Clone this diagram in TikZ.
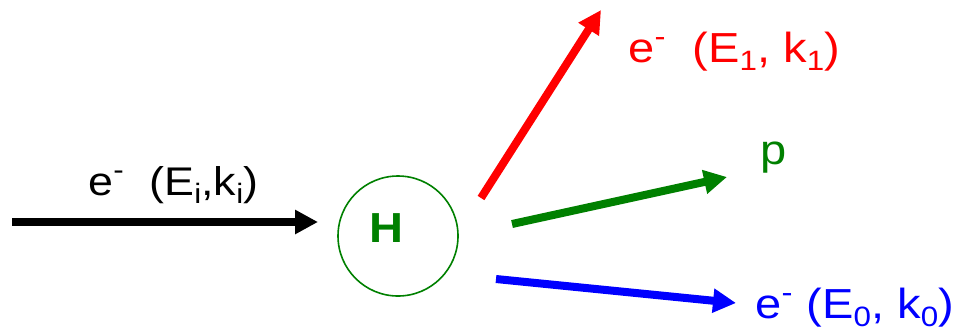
\documentclass[tikz,border=0pt]{standalone}
\usepackage{fontspec}
\setmainfont{Liberation Sans}
\newfontfamily\slidefont[FakeStretch=1.12]{Liberation Sans}
\usetikzlibrary{arrows.meta}
\newcommand{\lowidx}[1]{\raisebox{-0.2em}{\fontsize{14}{16}\selectfont #1}}

\begin{document}
\begin{tikzpicture}[x=0.5pt,y=0.5pt,>={Triangle[length=11.5pt,width=11.5pt]}]
            \definecolor{pgreen}{RGB}{0,128,0}
            \definecolor{ered}{RGB}{255,0,0}
            \definecolor{eblue}{RGB}{0,0,255}
            \tikzset{
              beam/.style={->,line width=4pt},
              lab/.style={anchor=base west,inner sep=0pt,font=\slidefont\fontsize{20}{24}\selectfont},
              biglab/.style={lab,font=\slidefont\fontsize{21}{25}\selectfont}
            }
            \useasboundingbox (0,0) rectangle (956,334);
            % target atom
            \node[circle,draw=pgreen,thick,minimum size=60pt,inner sep=0pt] (atom) at (398,98) {};
            \node[text=pgreen,inner sep=0pt,font=\slidefont\fontsize{21}{25}\selectfont\bfseries] (H) at (386,106) {H};
            % incoming electron
            \coordinate (in) at (12,112);
            \coordinate (inend) at (318,112);
            \draw[beam,black] (in) -- (inend);
            \node[lab] (labin) at (88,139) {e\textsuperscript{-}\ \ (E\lowidx{i},k\lowidx{i})};
            % outgoing particles
            \coordinate (rs) at (481,136);
            \coordinate (re) at (601,324);
            \coordinate (gs) at (512,110);
            \coordinate (ge) at (727,157);
            \coordinate (bs) at (496,55);
            \coordinate (be) at (736,31);
            \draw[beam,ered] (rs) -- (re);
            \draw[beam,pgreen] (gs) -- (ge);
            \draw[beam,eblue] (bs) -- (be);
            \node[biglab,text=ered] (labone) at (628,272) {e\textsuperscript{-}\ \ (E\lowidx{1}, k\lowidx{1})};
            \node[biglab,text=pgreen] (labp) at (760,170) {p};
            \node[biglab,text=eblue] (labzero) at (755,16) {e\textsuperscript{-} (E\lowidx{0}, k\lowidx{0})};
\end{tikzpicture}
\end{document}
